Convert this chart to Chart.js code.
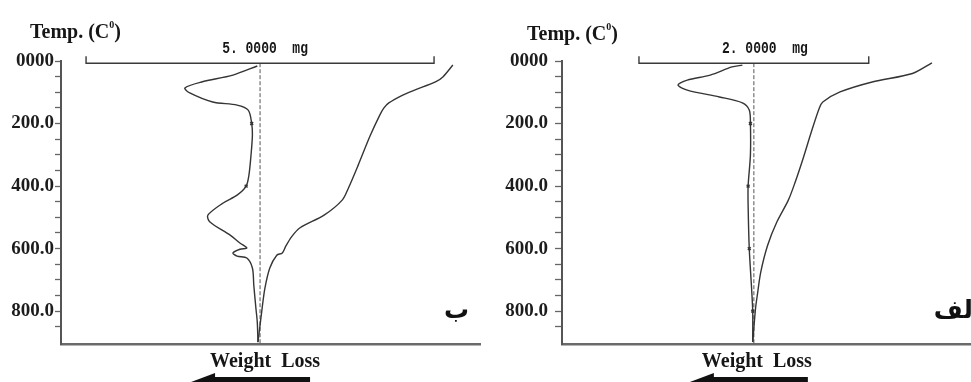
<!DOCTYPE html>
<html>
<head>
<meta charset="utf-8">
<script src="https://cdn.jsdelivr.net/npm/chart.js@4.4.1/dist/chart.umd.min.js"></script>
<style>
  html, body { margin: 0; padding: 0; background: #fff; }
  #wrap { position: relative; width: 971px; height: 382px; overflow: hidden; }
  #leftBox { position: absolute; left: 0; top: 0; width: 485px; height: 382px; }
  #rightBox { position: absolute; left: 485px; top: 0; width: 486px; height: 382px; }
</style>
</head>
<body>
<div id="wrap">
  <div id="leftBox"><canvas id="chartB" width="485" height="382"></canvas></div>
  <div id="rightBox"><canvas id="chartA" width="486" height="382"></canvas></div>
</div>
<script>
// panel "ب" (left), 5 mg scale
const leftDtaTemp = [16, 45, 67, 86, 102, 131, 141, 157, 200, 237, 301, 365, 400, 429, 454, 493, 515, 557, 582, 598, 602, 614, 624, 630, 662, 717, 790, 835, 899];
const leftDtaShift = [-0.04, -0.39, -0.84, -1.08, -1.01, -0.68, -0.33, -0.17, -0.12, -0.11, -0.13, -0.16, -0.20, -0.33, -0.53, -0.75, -0.72, -0.43, -0.29, -0.19, -0.29, -0.39, -0.33, -0.19, -0.11, -0.09, -0.06, -0.04, -0.03];
const leftTgTemp = [13, 50, 67, 93, 109, 134, 150, 173, 240, 333, 406, 445, 493, 534, 563, 592, 614, 621, 662, 726, 790, 899];
const leftTgShift = [2.77, 2.63, 2.52, 2.22, 2.05, 1.85, 1.78, 1.72, 1.58, 1.41, 1.27, 1.18, 0.92, 0.57, 0.45, 0.37, 0.32, 0.24, 0.14, 0.07, 0.03, -0.03];

// panel "الف" (right), 2 mg scale
const rightDtaTemp = [13, 19, 45, 61, 77, 93, 115, 134, 157, 200, 301, 400, 461, 600, 726, 800, 899];
const rightDtaShift = [-0.10, -0.19, -0.38, -0.58, -0.66, -0.58, -0.30, -0.10, -0.04, -0.03, -0.03, -0.05, -0.05, -0.04, -0.02, -0.01, -0.01];
const rightTgTemp = [6, 40, 67, 99, 131, 150, 227, 310, 387, 445, 515, 589, 675, 749, 790, 899];
const rightTgShift = [1.55, 1.38, 1.03, 0.75, 0.60, 0.57, 0.50, 0.43, 0.36, 0.30, 0.20, 0.12, 0.06, 0.03, 0.015, -0.01];

const majorTemps = [0, 200, 400, 600, 800];
const markTemps = [200, 400, 600, 800];

function toPoints(temps, shifts) {
  return temps.map((t, i) => ({ x: shifts[i], y: t }));
}

const notesPlugin = {
  id: 'notes',
  afterDraw(chart, args, o) {
    const { ctx } = chart;
    const x = chart.scales.x, y = chart.scales.y;
    const base = x.getPixelForValue(0);
    ctx.save();
    ctx.fillStyle = '#161616';
    ctx.strokeStyle = '#3a3a3a';

    // axis title, superscript drawn by hand
    ctx.textBaseline = 'alphabetic';
    ctx.textAlign = 'left';
    ctx.font = 'bold 20px "Liberation Serif"';
    let tx = o.titleX;
    const part1 = 'Temp. (C';
    ctx.fillText(part1, tx, o.titleY);
    tx += ctx.measureText(part1).width;
    ctx.font = 'bold 10px "Liberation Serif"';
    ctx.fillText('0', tx, o.titleY - 10);
    tx += ctx.measureText('0').width;
    ctx.font = 'bold 20px "Liberation Serif"';
    ctx.fillText(')', tx, o.titleY);

    // scale bar
    const yb = y.getPixelForValue(7);
    const xl = x.getPixelForValue(-o.mg / 2);
    const xr = x.getPixelForValue(o.mg / 2);
    ctx.lineWidth = 1.4;
    ctx.beginPath();
    ctx.moveTo(xl, yb - 7); ctx.lineTo(xl, yb); ctx.lineTo(xr, yb); ctx.lineTo(xr, yb - 7);
    ctx.stroke();
    ctx.save();
    ctx.translate((xl + xr) / 2 + o.mgShift, yb - 14);
    ctx.scale(1, 1.25);
    ctx.font = 'bold 13px "Liberation Mono"';
    ctx.textAlign = 'center';
    ctx.textBaseline = 'middle';
    ctx.fillText(o.mg.toFixed(4).replace('.', '. ') + '  mg', 0, 0);
    ctx.restore();

    // weight loss label and arrow
    ctx.font = 'bold 20px "Liberation Serif"';
    ctx.textAlign = 'center';
    ctx.textBaseline = 'middle';
    ctx.fillText('Weight  Loss', base + o.wlShift, 362);
    ctx.fillStyle = '#111';
    ctx.fillRect(base + o.arrowFrom + 22, 377, o.arrowTo - o.arrowFrom - 22, 8);
    ctx.beginPath();
    ctx.moveTo(base + o.arrowFrom, 382);
    ctx.lineTo(base + o.arrowFrom + 24, 373);
    ctx.lineTo(base + o.arrowFrom + 24, 391);
    ctx.closePath();
    ctx.fill();

    // panel letter
    ctx.font = 'bold 25px "DejaVu Sans"';
    ctx.textAlign = 'right';
    ctx.textBaseline = 'alphabetic';
    ctx.fillText(o.letter, o.letterX, 318);
    ctx.restore();
  }
};

function makePanel(id, cfg) {
  const lineColor = '#353535';
  return new Chart(document.getElementById(id), {
    type: 'scatter',
    data: {
      datasets: [
        {
          label: 'DTA',
          data: toPoints(cfg.dtaTemp, cfg.dtaShift),
          showLine: true,
          borderColor: lineColor,
          borderWidth: 1.4,
          tension: 0.3,
          pointRadius: c => (c.raw && markTemps.includes(c.raw.y) ? 2 : 0),
          pointStyle: 'crossRot',
          pointBorderColor: lineColor,
          pointBorderWidth: 1.5
        },
        {
          label: 'TG',
          data: toPoints(cfg.tgTemp, cfg.tgShift),
          showLine: true,
          borderColor: lineColor,
          borderWidth: 1.4,
          tension: 0.3,
          pointRadius: 0
        },
        {
          label: 'base',
          data: [{ x: 0, y: 7 }, { x: 0, y: 905 }],
          showLine: true,
          borderColor: '#555',
          borderWidth: 1,
          borderDash: [4, 2],
          pointRadius: 0
        }
      ]
    },
    options: {
      responsive: false,
      animation: false,
      layout: { padding: { left: 0, top: 61, right: cfg.padRight, bottom: 38 } },
      plugins: {
        legend: { display: false },
        tooltip: { enabled: false },
        notes: cfg.notes
      },
      scales: {
        x: {
          type: 'linear',
          min: cfg.xMin,
          max: cfg.xMax,
          ticks: { display: false },
          grid: { display: false },
          border: { display: true, color: '#6a6a6a', width: 2.5 },
          afterFit: s => { s.height = 0; }
        },
        y: {
          type: 'linear',
          reverse: true,
          min: 0,
          max: 905,
          afterBuildTicks: s => { s.ticks = s.ticks.filter(t => t.value % 50 === 0); },
          afterFit: s => { s.width = cfg.axisWidth; },
          ticks: {
            stepSize: 50,
            autoSkip: false,
            padding: cfg.labelPad,
            color: '#1c1c1c',
            font: { family: '"Liberation Serif"', size: 19, weight: 'bold' },
            callback: v => (majorTemps.includes(v) ? (v === 0 ? '0000' : v.toFixed(1)) : '')
          },
          grid: {
            drawOnChartArea: false,
            drawTicks: true,
            tickLength: cfg.tickLen,
            tickColor: '#666',
            tickWidth: 1.3
          },
          border: { display: true, color: '#555', width: 2 }
        }
      }
    },
    plugins: [notesPlugin]
  });
}

makePanel('chartB', {
  dtaTemp: leftDtaTemp, dtaShift: leftDtaShift,
  tgTemp: leftTgTemp, tgShift: leftTgShift,
  xMin: -2.86, xMax: 3.16,
  axisWidth: 61, padRight: 5, labelPad: 1, tickLen: 6,
  notes: { mg: 5, mgShift: 5, titleX: 30, titleY: 38, wlShift: 5, arrowFrom: -69, arrowTo: 50, letter: 'ب', letterX: 469 }
});

makePanel('chartA', {
  dtaTemp: rightDtaTemp, dtaShift: rightDtaShift,
  tgTemp: rightTgTemp, tgShift: rightTgShift,
  xMin: -1.67, xMax: 1.89,
  axisWidth: 77, padRight: 0, labelPad: 7, tickLen: 7,
  notes: { mg: 2, mgShift: 11, titleX: 42, titleY: 40, wlShift: 3, arrowFrom: -64, arrowTo: 54, letter: 'لف', letterX: 488 }
});
</script>
</body>
</html>
